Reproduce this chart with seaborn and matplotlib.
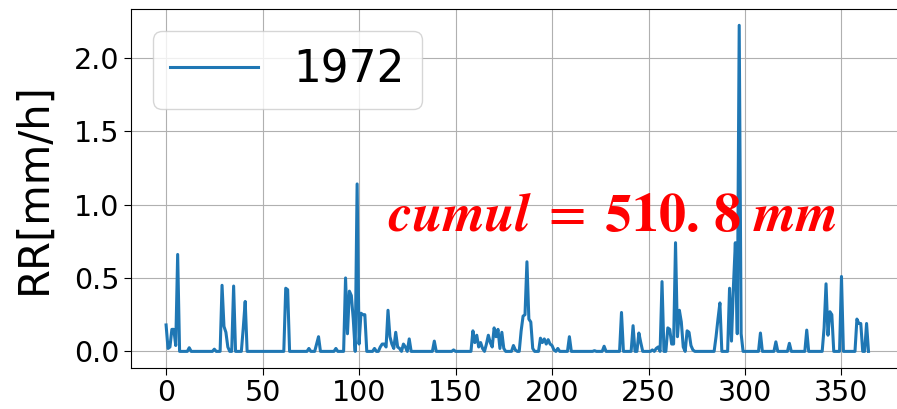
import numpy as np
import pandas as pd
import matplotlib
matplotlib.use("Agg")
import matplotlib.pyplot as plt
import seaborn as sns

# jours de pluie (index du jour dans l'annee) et intensite RR en mm/h, lus sur la figure
# les autres jours sont a zero
rain_days = [0, 1, 2, 3, 4, 5, 6, 12, 25, 29, 30, 31, 32, 35, 40, 41, 62, 63, 74, 78, 79, 88,
             93, 94, 95, 96, 97, 99, 100, 101, 102, 103,
             108, 111, 112, 113, 114, 115, 116, 117, 118, 119, 120, 121, 123, 124, 126,
             139, 149, 159, 160, 161, 162, 163, 164, 166, 167, 168, 169, 170, 171, 172, 173, 174, 175,
             180, 181, 184, 185, 186, 187, 188, 189, 190,
             194, 195, 196, 197, 198, 199, 200, 201, 203, 209, 222, 227, 236,
             242, 245, 246, 252, 254, 255, 257, 260, 261, 262, 263, 264, 265, 266, 267, 268,
             270, 271, 272, 273, 285, 286, 287, 292, 293, 294, 295, 296, 297, 298,
             308, 316, 323, 332, 341, 342, 343, 344, 345, 350, 358, 359, 360, 363]
rain_values = [0.18, 0.02, 0.03, 0.15, 0.15, 0.04, 0.66, 0.025, 0.015, 0.45, 0.17, 0.13, 0.03, 0.445, 0.16, 0.34,
               0.43, 0.42, 0.02, 0.05, 0.10, 0.02,
               0.50, 0.12, 0.41, 0.38, 0.22, 1.14, 0.05, 0.26, 0.25, 0.25,
               0.02, 0.03, 0.05, 0.05, 0.03, 0.28, 0.10, 0.05, 0.02, 0.13, 0.03, 0.02, 0.05, 0.03, 0.085,
               0.07, 0.01, 0.14, 0.06, 0.11, 0.03, 0.06, 0.02, 0.05, 0.11, 0.06, 0.03, 0.16, 0.10, 0.15, 0.02, 0.13, 0.02,
               0.04, 0.01, 0.14, 0.24, 0.25, 0.61, 0.22, 0.20, 0.02,
               0.09, 0.06, 0.085, 0.05, 0.08, 0.05, 0.04, 0.01, 0.02, 0.10, 0.005, 0.035, 0.265,
               0.175, 0.125, 0.06, 0.01, 0.02, 0.03, 0.475, 0.16, 0.15, 0.05, 0.05, 0.74, 0.10, 0.28, 0.20, 0.03,
               0.14, 0.13, 0.04, 0.01, 0.10, 0.22, 0.33, 0.43, 0.07, 0.44, 0.74, 0.12, 2.22, 0.12,
               0.125, 0.065, 0.055, 0.145, 0.16, 0.46, 0.11, 0.27, 0.25, 0.51, 0.22, 0.19, 0.19, 0.19]
n_days = 365
cumul_label = r'$\mathbfit{cumul}\;=\;\mathbf{510.\,8}\ \mathbfit{mm}$'

rr = np.zeros(n_days)
rr[rain_days] = rain_values
df = pd.DataFrame({'jour': np.arange(n_days), 'RR': rr})

fig = plt.figure(figsize=(8.97, 4.09), dpi=100)
# la figure d'origine est coupee a droite : l'axe depasse un peu du cadre
ax = fig.add_axes([0.146, 0.101, 0.876, 0.877])

sns.lineplot(data=df, x='jour', y='RR', ax=ax, label='1972', color='#1f77b4', lw=2.2)
ax.grid(True)
ax.set_xlim(-18.2, 389)
ax.set_xlabel('')
ax.set_ylabel('RR[mm/h]', fontsize=30, labelpad=14)
ax.tick_params(labelsize=20.5, length=5)
ax.legend(loc='upper left', fontsize=31.5)

plt.rcParams['mathtext.fontset'] = 'stix'
ax.text(115, 0.82, cumul_label, color='red', fontsize=39, ha='left', va='baseline')

plt.savefig('out.png', dpi=100)
